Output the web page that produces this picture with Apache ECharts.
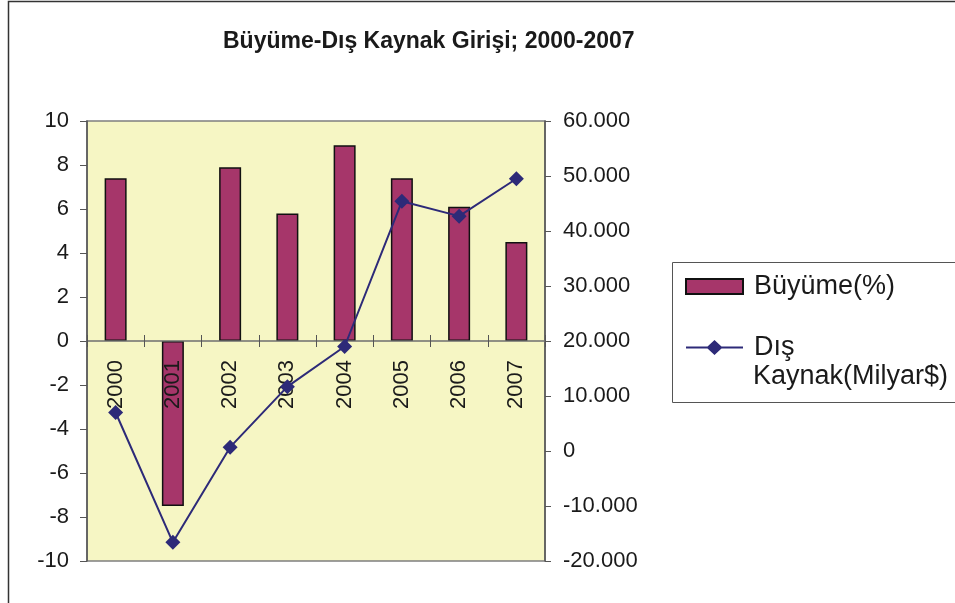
<!DOCTYPE html>
<html>
<head>
<meta charset="utf-8">
<script src="https://cdn.jsdelivr.net/npm/echarts@6/dist/echarts.min.js"></script>
<style>
  html, body { margin: 0; padding: 0; background: #fff; }
  #chart { width: 955px; height: 603px; }
</style>
</head>
<body>
<div id="chart"></div>
<script>
// yillar ve seriler
const years = ['2000', '2001', '2002', '2003', '2004', '2005', '2006', '2007'];
const buyume = [7.4, -7.5, 7.9, 5.8, 8.9, 7.4, 6.1, 4.5];
const disKaynak = [7000, -16600, 700, 11700, 19000, 45400, 42700, 49500];

const font = 'Liberation Sans, Arial, sans-serif';
const lacivert = '#2d2a78';

let chart = echarts.init(document.getElementById('chart'));
let option = {
  animation: false,
  textStyle: { fontFamily: font },
  title: {
    text: 'Büyüme-Dış Kaynak Girişi; 2000-2007',
    left: 218,
    top: 25,
    textStyle: { fontSize: 23, fontWeight: 'bold', color: '#1a1a1a', fontFamily: font }
  },
  grid: {
    left: 87, right: 410, top: 121, bottom: 42,
    outerBoundsMode: 'none',
    containLabel: false,
    show: true,
    backgroundColor: '#f6f6c4',
    borderColor: '#7f7f7f',
    borderWidth: 1.5
  },
  legend: {
    orient: 'vertical',
    left: 680,
    top: 268,
    itemWidth: 57,
    itemHeight: 15,
    itemGap: 34,
    textStyle: { fontSize: 27, color: '#1a1a1a', fontFamily: font, padding: [0, 0, 0, 6] },
    formatter: name => name === 'Dış Kaynak(Milyar$)' ? 'Dış' : name,
    data: [
      { name: 'Büyüme(%)', icon: 'rect' },
      {
        name: 'Dış Kaynak(Milyar$)',
        icon: 'path://M0,6.5L21.5,6.5L28.5,0L35.5,6.5L57,6.5L57,8.5L35.5,8.5L28.5,15L21.5,8.5L0,8.5Z',
        itemStyle: { color: lacivert, borderWidth: 0 }
      }
    ]
  },
  graphic: [
    {
      type: 'rect',
      shape: { x: 8.5, y: 1.5, width: 1000, height: 700 },
      style: { fill: 'none', stroke: '#333', lineWidth: 1.5 },
      silent: true
    },
    {
      type: 'rect',
      shape: { x: 672.5, y: 262.5, width: 400, height: 140 },
      style: { fill: 'none', stroke: '#555', lineWidth: 1 },
      silent: true
    },
    {
      type: 'text',
      x: 753,
      y: 377,
      style: {
        text: 'Kaynak(Milyar$)',
        fontSize: 27,
        fontFamily: font,
        fill: '#1a1a1a',
        verticalAlign: 'middle'
      },
      silent: true
    }
  ],
  xAxis: [
    {
      type: 'category',
      data: years,
      offset: -220,
      z: 5,
      axisLine: { onZero: false, lineStyle: { color: '#6f6f6f', width: 1.5 } },
      axisTick: { show: true, length: 6, lineStyle: { color: '#555' } },
      axisLabel: { rotate: 90, margin: 19, fontSize: 22, color: '#1a1a1a', fontFamily: font }
    },
    {
      // sifir cizgisinin ustundeki tik parcasi
      type: 'category',
      data: years,
      position: 'bottom',
      offset: -220,
      z: 5,
      axisLine: { show: false, onZero: false },
      axisTick: { show: true, inside: true, length: 6, lineStyle: { color: '#555' } },
      axisLabel: { show: false }
    }
  ],
  yAxis: [
    {
      type: 'value',
      min: -10, max: 10, interval: 2,
      axisLine: { show: true, lineStyle: { color: '#555', width: 1.5 } },
      axisTick: { show: true, length: 7, lineStyle: { color: '#555' } },
      axisLabel: { margin: 18, fontSize: 22, color: '#1a1a1a', fontFamily: font },
      splitLine: { show: false }
    },
    {
      type: 'value',
      min: -20000, max: 60000, interval: 10000,
      position: 'right',
      axisLine: { show: true, lineStyle: { color: '#555', width: 1.5 } },
      axisTick: { show: true, length: 6, lineStyle: { color: '#555' } },
      axisLabel: {
        margin: 18, fontSize: 22, color: '#1a1a1a', fontFamily: font,
        formatter: v => v === 0 ? '0' : (v / 1000).toFixed(3)
      },
      splitLine: { show: false }
    }
  ],
  series: [
    {
      name: 'Büyüme(%)',
      type: 'bar',
      data: buyume,
      barWidth: 22,
      itemStyle: { color: '#a6366a', borderColor: '#111', borderWidth: 1.5 }
    },
    {
      name: 'Dış Kaynak(Milyar$)',
      type: 'line',
      yAxisIndex: 1,
      z: 6,
      data: disKaynak,
      symbol: 'diamond',
      symbolSize: 15,
      lineStyle: { color: lacivert, width: 2 },
      itemStyle: { color: lacivert }
    }
  ]
};
chart.setOption(option);
</script>
</body>
</html>
